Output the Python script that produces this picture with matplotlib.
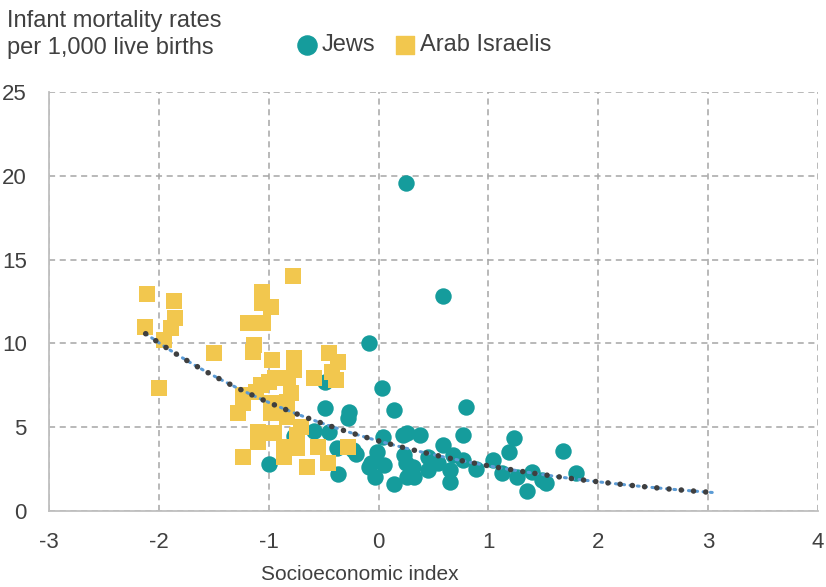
import numpy as np
from matplotlib import pyplot as plt

# Jews: socioeconomic index vs infant mortality rate
jews_x = [0.25, 0.59, -0.09, 0.03, 0.14, 0.80, -0.49, -0.27, -0.28, -0.49,
          -0.59, -0.45, -0.77, -0.23, -0.38, -0.37, -1.00, 0.04, -0.01, -0.07,
          -0.09, 0.05, -0.03, 0.14, 0.22, 0.26, 0.38, 0.23, 0.25, 0.31,
          0.26, 0.32, 0.59, 0.45, 0.54, 0.45, 0.65, 0.65, 0.68, 0.77,
          0.77, 0.89, 1.04, 1.12, 1.23, 1.19, 1.26, 1.40, 1.49, 1.52,
          1.35, 1.68, 1.80, -0.21]
jews_y = [19.57, 12.83, 10.02, 7.34, 6.03, 6.20, 6.15, 5.90, 5.55, 7.70,
          4.77, 4.71, 4.47, 3.64, 3.76, 2.20, 2.80, 4.42, 3.52, 2.86,
          2.63, 2.74, 2.03, 1.61, 4.53, 4.65, 4.53, 3.34, 2.86, 2.63,
          2.03, 2.03, 3.94, 3.22, 2.86, 2.45, 2.45, 1.73, 3.34, 4.53,
          3.04, 2.51, 3.04, 2.27, 4.36, 3.52, 2.03, 2.33, 1.85, 1.67,
          1.19, 3.58, 2.27, 3.40]

# Arab Israelis
arab_x = [-2.11, -1.86, -1.85, -2.13, -1.89, -1.95, -1.50, -2.00, -0.78, -1.06,
          -1.06, -0.98, -1.19, -1.05, -1.13, -1.14, -0.97, -0.77, -0.45, -0.37,
          -0.77, -0.42, -0.39, -0.59, -0.94, -0.82, -1.07, -1.00, -1.12, -1.23,
          -0.80, -0.83, -0.98, -1.23, -1.28, -0.98, -0.83, -0.71, -1.10, -0.95,
          -0.74, -1.10, -0.86, -0.74, -0.55, -0.28, -0.86, -1.23, -0.46, -0.65]
arab_y = [12.95, 12.53, 11.52, 10.98, 10.92, 10.20, 9.43, 7.34, 14.02, 13.07,
          12.41, 12.17, 11.22, 11.22, 9.90, 9.49, 9.00, 9.13, 9.43, 8.89,
          8.41, 8.29, 7.82, 7.94, 7.94, 7.94, 7.52, 7.70, 7.10, 6.92,
          7.04, 6.50, 6.44, 6.44, 5.85, 5.85, 5.60, 5.01, 4.71, 4.65,
          4.53, 4.12, 3.82, 3.76, 3.82, 3.82, 3.22, 3.22, 2.86, 2.63]

# exponential trendline: y = a * exp(b * x)
trend_a, trend_b = 4.18, -0.438
trend_start, trend_end = -2.12, 3.06

teal = '#159C9C'
yellow = '#F2C74E'
text_col = '#404040'

plt.rcParams['font.family'] = ['Liberation Sans', 'DejaVu Sans']
plt.rcParams['axes.unicode_minus'] = False

fig = plt.figure(figsize=(8.26, 5.87), dpi=100)
ax = fig.add_axes([49 / 826, 76 / 587, 769 / 826, 419 / 587])

ax.scatter(jews_x, jews_y, s=140, marker='o', color=teal, linewidths=0, zorder=3)
ax.scatter(arab_x, arab_y, s=125, marker='s', color=yellow, linewidths=0, zorder=4)

tx = np.linspace(trend_start, trend_end, 200)
ty = trend_a * np.exp(trend_b * tx)
ax.plot(tx, ty, color='#5B9BD5', lw=2.2, linestyle=(0, (0.6, 1.8)),
        dash_capstyle='round', zorder=5)
ax.plot(tx, ty, color='#3F3F3F', lw=4.0, linestyle=(0, (0.01, 2.2)),
        dash_capstyle='round', zorder=6)

ax.set_xlim(-3, 4)
ax.set_ylim(0, 25)
ax.set_xticks(range(-3, 5))
ax.set_yticks(range(0, 26, 5))
ax.grid(True, color='#A6A6A6', linestyle=(0, (4, 3)), lw=1.1)
ax.set_axisbelow(True)
for side in ['top', 'right']:
    ax.spines[side].set_visible(False)
for side in ['bottom', 'left']:
    ax.spines[side].set_color('#BFBFBF')
    ax.spines[side].set_linewidth(1.3)
ax.tick_params(length=0, labelsize=16, labelcolor=text_col)
ax.tick_params(axis='x', pad=15)
ax.tick_params(axis='y', pad=16)

fig.text(7 / 826, 1 - 27 / 587, 'Infant mortality rates',
         fontsize=17, color=text_col, va='baseline', ha='left')
fig.text(7 / 826, 1 - 54 / 587, 'per 1,000 live births',
         fontsize=17, color=text_col, va='baseline', ha='left')
fig.text(360 / 826, 1 - 575 / 587, 'Socioeconomic index', fontsize=15,
         color=text_col, ha='center', va='center')

ax.scatter([], [], s=190, marker='o', color=teal, label='Jews')
ax.scatter([], [], s=170, marker='s', color=yellow, label='Arab Israelis')
leg = ax.legend(loc='center left', bbox_to_anchor=(281 / 826, 1 - 45 / 587),
                bbox_transform=fig.transFigure, ncol=2, frameon=False,
                fontsize=17, handletextpad=0.0, columnspacing=0.7,
                handlelength=1.2, borderpad=0, labelcolor=text_col)

fig.savefig('out.png', dpi=100)
